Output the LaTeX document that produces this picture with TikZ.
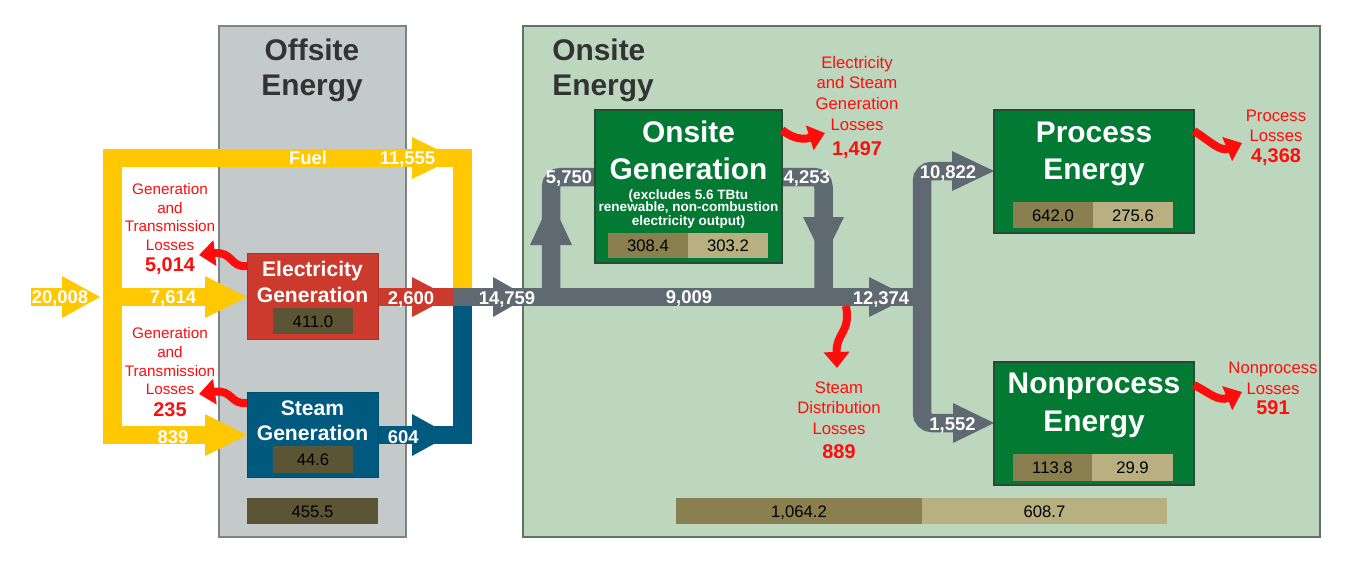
\documentclass[tikz,border=0pt]{standalone}
\usepackage{fontspec}
\setmainfont{Liberation Sans}
\usetikzlibrary{arrows.meta,fit}
\definecolor{yel}{HTML}{FFC800}
\definecolor{redf}{HTML}{CC3A2E}
\definecolor{bluef}{HTML}{005A80}
\definecolor{grayf}{HTML}{5E6971}
\definecolor{grn}{HTML}{037A34}
\definecolor{grnb}{HTML}{2B4A33}
\definecolor{offbg}{HTML}{C4CAC9}
\definecolor{offbd}{HTML}{7E8483}
\definecolor{onbg}{HTML}{BDD6BE}
\definecolor{onbd}{HTML}{5F7563}
\definecolor{oliveD}{HTML}{5C5535}
\definecolor{oliveM}{HTML}{8A804F}
\definecolor{oliveL}{HTML}{B9B082}
\definecolor{ttl}{HTML}{333333}
\definecolor{lossr}{HTML}{FF0D0D}
\tikzset{
 bx/.style={inner sep=0pt, outer sep=0pt},
 flow/.style={line width=0.37cm},
 lossarrow/.style={draw=lossr, line width=0.16cm, -{Triangle[width=0.5cm,length=0.32cm]}},
 ttitle/.style={anchor=base, inner sep=0pt, text=ttl, font=\fontsize{17}{20}\selectfont\bfseries},
 tbig/.style={anchor=base, inner sep=0pt, text=white, font=\fontsize{17}{20}\selectfont\bfseries},
 tmid/.style={anchor=base, inner sep=0pt, text=white, font=\fontsize{12}{14}\selectfont\bfseries},
 tsmall/.style={anchor=base, inner sep=0pt, text=white, font=\fontsize{7.7}{9}\selectfont\bfseries},
 tflow/.style={anchor=base, inner sep=0pt, text=white, font=\fontsize{10.5}{12}\selectfont\bfseries},
 tloss/.style={anchor=base, inner sep=0pt, text=lossr, font=\fontsize{8.7}{10}\selectfont},
 tlossb/.style={anchor=base, inner sep=0pt, text=lossr, font=\fontsize{9.5}{11}\selectfont},
 tlossn/.style={anchor=base, inner sep=0pt, text=lossr, font=\fontsize{11.3}{13}\selectfont\bfseries},
 tbar/.style={anchor=base, inner sep=0pt, text=black, font=\fontsize{9.5}{11}\selectfont},
}
\begin{document}
\begin{tikzpicture}[x=0.02cm, y=-0.02cm]
\useasboundingbox (0,0) rectangle (1350,565);
% panels
\node[bx, fit={(219,26) (406,537)}, fill=offbg, draw=offbd, line width=0.6pt] (offp) {};
\node[bx, fit={(523,26) (1320,537)}, fill=onbg, draw=onbd, line width=0.8pt] (onp) {};
\node[ttitle] (offt1) at (312,60) {Offsite};
\node[ttitle] (offt2) at (312,95.5) {Energy};
\node[ttitle, anchor=base west] (ont1) at (552,60) {Onsite};
\node[ttitle, anchor=base west] (ont2) at (552,95.5) {Energy};
% yellow flows
\draw[flow, yel, line join=miter] (462.5,288) -- (462.5,158) -- (112.5,158) -- (112.5,435) -- (210,435);
\draw[flow, yel] (112.5,297) -- (210,297);
\draw[flow, yel] (31,297) -- (65,297);
\fill[yel] (62,276) -- (100,297) -- (62,318) -- cycle;
\fill[yel] (205,276) -- (247,297) -- (205,318) -- cycle;
\fill[yel] (205,414) -- (247,435) -- (205,456) -- cycle;
\fill[yel] (412,137) -- (455,158) -- (412,179) -- cycle;
% red and blue flows
\draw[flow, redf] (378,297) -- (453,297);
\fill[redf] (412,277) -- (450,297) -- (412,317) -- cycle;
\draw[flow, bluef, line join=miter] (378,435) -- (462.5,435) -- (462.5,306);
\fill[bluef] (412,414) -- (450,435) -- (412,456) -- cycle;
% gray flows
\draw[flow, grayf] (453,297) -- (922,297);
\draw[flow, grayf, rounded corners=0.2cm] (955,171) -- (922,171) -- (922,423) -- (955,423);
\draw[flow, grayf, rounded corners=0.2cm] (551,297) -- (551,177) -- (600,177);
\draw[flow, grayf, rounded corners=0.2cm] (778,177) -- (823.5,177) -- (823.5,297);
\fill[grayf] (493,277) -- (528,297) -- (493,317) -- cycle;
\fill[grayf] (869,277) -- (909,297) -- (869,317) -- cycle;
\fill[grayf] (952,151) -- (994,171) -- (952,191) -- cycle;
\fill[grayf] (953,403) -- (994,423) -- (953,443) -- cycle;
\fill[grayf] (530,245) -- (551,200) -- (572,245) -- cycle;
\fill[grayf] (803,217) -- (823.5,259) -- (844,217) -- cycle;
% offsite boxes
\node[bx, fit={(247,253) (378,339)}, fill=redf, draw=redf!85!black, line width=0.5pt] (elec) {};
\node[bx, fit={(273,308) (353,334)}, fill=oliveD] (elecv) {};
\node[bx, fit={(247,392) (378,477)}, fill=bluef, draw=bluef!85!black, line width=0.5pt] (steam) {};
\node[bx, fit={(273,446) (353,473)}, fill=oliveD] (steamv) {};
\node[bx, fit={(247,498) (378,524)}, fill=oliveD] (offv) {};
\node[tmid] (elect1) at (312.5,276.6) {Electricity};
\node[tmid] (elect2) at (312.5,302.3) {Generation};
\node[tmid] (steamt1) at (312.5,415) {Steam};
\node[tmid] (steamt2) at (312.5,440.4) {Generation};
\node[tbar] (elecvt) at (313,327) {411.0};
\node[tbar] (steamvt) at (313,465.2) {44.6};
\node[tbar] (offvt) at (312.5,517) {455.5};
% onsite boxes
\node[bx, fit={(595,110) (782,263)}, fill=grn, draw=grnb, line width=0.6pt] (ogen) {};
\node[bx, fit={(608,233) (688,258)}, fill=oliveM] (ogena) {};
\node[bx, fit={(688,233) (768,258)}, fill=oliveL] (ogenb) {};
\node[tbig] (ogent1) at (688.5,142.4) {Onsite};
\node[tbig] (ogent2) at (688.5,179.5) {Generation};
\node[tsmall] (ogens1) at (688.5,199) {(excludes 5.6 TBtu};
\node[tsmall] (ogens2) at (688.5,211.7) {renewable, non-combustion};
\node[tsmall] (ogens3) at (688.5,225.4) {electricity output)};
\node[tbar] (ogenat) at (648,251.8) {308.4};
\node[tbar] (ogenbt) at (728,251.8) {303.2};
\node[bx, fit={(994,110) (1194,233)}, fill=grn, draw=grnb, line width=0.6pt] (proc) {};
\node[bx, fit={(1013,202) (1093,228)}, fill=oliveM] (proca) {};
\node[bx, fit={(1093,202) (1173,228)}, fill=oliveL] (procb) {};
\node[tbig] (proct1) at (1094,142.7) {Process};
\node[tbig] (proct2) at (1094,179) {Energy};
\node[tbar] (procat) at (1053,221) {642.0};
\node[tbar] (procbt) at (1133,221) {275.6};
\node[bx, fit={(994,362) (1194,485)}, fill=grn, draw=grnb, line width=0.6pt] (nproc) {};
\node[bx, fit={(1013,454) (1092,481)}, fill=oliveM] (nproca) {};
\node[bx, fit={(1092,454) (1173,481)}, fill=oliveL] (nprocb) {};
\node[tbig] (nproct1) at (1094,393.5) {Nonprocess};
\node[tbig] (nproct2) at (1094,431.5) {Energy};
\node[tbar] (nprocat) at (1052.5,473.3) {113.8};
\node[tbar] (nprocbt) at (1132.5,473.3) {29.9};
\node[bx, fit={(676,498) (922,524)}, fill=oliveM] (ona) {};
\node[bx, fit={(922,498) (1167,524)}, fill=oliveL] (onb) {};
\node[tbar] (onat) at (799,517.2) {1,064.2};
\node[tbar] (onbt) at (1044.5,517.2) {608.7};
% flow labels
\node[tflow] (f1) at (60,303) {20,008};
\node[tflow] (f2) at (173,303.6) {7,614};
\node[tflow] (f3) at (173,443.3) {839};
\node[tflow] (f4) at (308,164.6) {Fuel};
\node[tflow] (f5) at (407.5,164.6) {11,555};
\node[tflow] (f6) at (411,304.4) {2,600};
\node[tflow] (f7) at (403.3,443) {604};
\node[tflow] (f8) at (507,304) {14,759};
\node[tflow] (f9) at (569,183.8) {5,750};
\node[tflow] (f10) at (806.7,183.8) {4,253};
\node[tflow] (f11) at (689,303.3) {9,009};
\node[tflow] (f12) at (881,304) {12,374};
\node[tflow] (f13) at (948,178.3) {10,822};
\node[tflow] (f14) at (952.5,430) {1,552};
% losses text
\node[tloss] (l1a) at (170,194.5) {Generation};
\node[tloss] (l1b) at (170,213) {and};
\node[tloss] (l1c) at (170,231.8) {Transmission};
\node[tloss] (l1d) at (170,250.2) {Losses};
\node[tlossn] (l1n) at (170,271.6) {5,014};
\node[tloss] (l2a) at (170,338.8) {Generation};
\node[tloss] (l2b) at (170,357.4) {and};
\node[tloss] (l2c) at (170,376) {Transmission};
\node[tloss] (l2d) at (170,394.6) {Losses};
\node[tlossn] (l2n) at (170,416) {235};
\node[tlossb] (l3a) at (857,68.5) {Electricity};
\node[tlossb] (l3b) at (857,88.8) {and Steam};
\node[tlossb] (l3c) at (857,109.7) {Generation};
\node[tlossb] (l3d) at (857,130) {Losses};
\node[tlossn] (l3n) at (857,155.8) {1,497};
\node[tlossb] (l4a) at (1276,121) {Process};
\node[tlossb] (l4b) at (1276,141.7) {Losses};
\node[tlossn] (l4n) at (1276,162.6) {4,368};
\node[tlossb] (l5a) at (1273,373.3) {Nonprocess};
\node[tlossb] (l5b) at (1273,394.3) {Losses};
\node[tlossn] (l5n) at (1273,414.1) {591};
\node[tlossb] (l6a) at (839,393.3) {Steam};
\node[tlossb] (l6b) at (839,413.8) {Distribution};
\node[tlossb] (l6c) at (839,434.3) {Losses};
\node[tlossn] (l6n) at (839,458.9) {889};
% loss arrows
\draw[lossarrow] (247,266) .. controls (230,268) and (233,251) .. (199,255);
\draw[lossarrow] (247,403) .. controls (230,405) and (233,389) .. (199,394);
\draw[lossarrow] (782,130) .. controls (796,141) and (806,139) .. (825,133);
\draw[lossarrow] (1194,131) .. controls (1210,141) and (1220,152) .. (1242,143);
\draw[lossarrow] (1194,385) .. controls (1210,393) and (1218,402) .. (1242,392);
\draw[lossarrow] (846,306) .. controls (851,333) and (836,332) .. (837,368);
\end{tikzpicture}
\end{document}
